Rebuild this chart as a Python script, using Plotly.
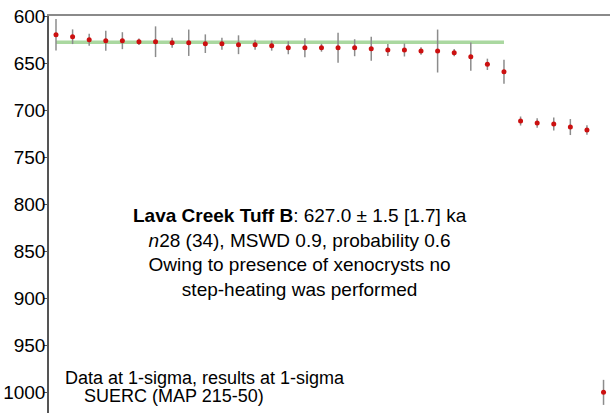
import plotly.graph_objects as go

# --- data ---
steps = list(range(1, 35))
ages = [619.9, 622.0, 625.2, 626.2, 626.2, 627.3, 627.3, 628.4, 628.4, 629.4,
        629.4, 630.5, 630.5, 631.5, 633.7, 633.7, 633.7, 633.7, 633.7, 634.7,
        636.1, 636.1, 637.2, 637.2, 638.9, 643.2, 651.3, 659.1, 711.5, 713.6,
        714.7, 717.9, 721.0, 999.6]
errors = [16.7, 7.8, 6.4, 10.6, 9.0, 3.5, 16.3, 5.3, 14.0, 9.9,
          6.4, 10.0, 5.3, 5.3, 6.9, 10.0, 4.2, 16.0, 9.0, 12.7,
          6.4, 6.9, 3.9, 22.8, 3.9, 15.0, 6.0, 12.7, 4.8, 5.1,
          6.9, 8.5, 5.1, 13.3]
mean_steps = [1, 28]
mean_age = [628.0, 628.0]
y_ticks = [600, 650, 700, 750, 800, 850, 900, 950, 1000]

FONT = "Liberation Sans, Arial, Helvetica, sans-serif"

fig = go.Figure()

fig.add_trace(go.Scatter(
    x=mean_steps, y=mean_age, mode="lines",
    line=dict(color="#aad8a0", width=3.5),
    hoverinfo="skip", showlegend=False))

fig.add_trace(go.Scatter(
    x=steps, y=ages, mode="markers",
    marker=dict(color="#cc1010", size=5),
    error_y=dict(type="data", array=errors, visible=True,
                 color="#8c8c8c", thickness=1.5, width=0),
    showlegend=False, cliponaxis=False))

fig.update_layout(
    width=610, height=413,
    margin=dict(l=49, r=0, t=16, b=0, autoexpand=False),
    paper_bgcolor="white", plot_bgcolor="white",
    font=dict(family=FONT, color="black"),
    xaxis=dict(range=[0.578, 34.39], side="top", showline=True,
               linecolor="#8a8a8a", linewidth=2, showticklabels=False,
               ticks="", showgrid=False, zeroline=False, automargin=False),
    yaxis=dict(range=[1021.5, 600], tickvals=y_ticks, ticks="outside",
               ticklen=3, tickcolor="#555", showline=True, linecolor="#555",
               linewidth=1.5, showgrid=False, zeroline=False, automargin=False,
               ticklabelstandoff=-5,
               tickfont=dict(size=19, family=FONT, color="black")),
    annotations=[
        dict(xref="paper", yref="paper", x=0.447, y=0.4055,
             xanchor="center", yanchor="middle", showarrow=False,
             align="center", font=dict(size=19, family=FONT, color="black"),
             text="<b>Lava Creek Tuff B</b>: 627.0 ± 1.5 [1.7] ka<br>"
                  "<i>n</i>28 (34), MSWD 0.9, probability 0.6<br>"
                  "Owing to presence of xenocrysts no<br>"
                  "step-heating was performed"),
        dict(xref="paper", yref="paper", x=0.025, y=0.0894,
             xanchor="left", yanchor="middle", showarrow=False,
             font=dict(size=18, family=FONT, color="black"),
             text="Data at 1-sigma, results at 1-sigma"),
        dict(xref="paper", yref="paper", x=0.222, y=0.0428,
             xanchor="center", yanchor="middle", showarrow=False,
             font=dict(size=18, family=FONT, color="black"),
             text="SUERC (MAP 215-50)"),
    ],
)

# remove the browser's default 8px page margin so the chart fills the window
fig.write_html("out.html",
               config={"displayModeBar": False},
               post_script="document.body.style.margin='0px';"
                           "document.body.style.overflow='hidden';")
